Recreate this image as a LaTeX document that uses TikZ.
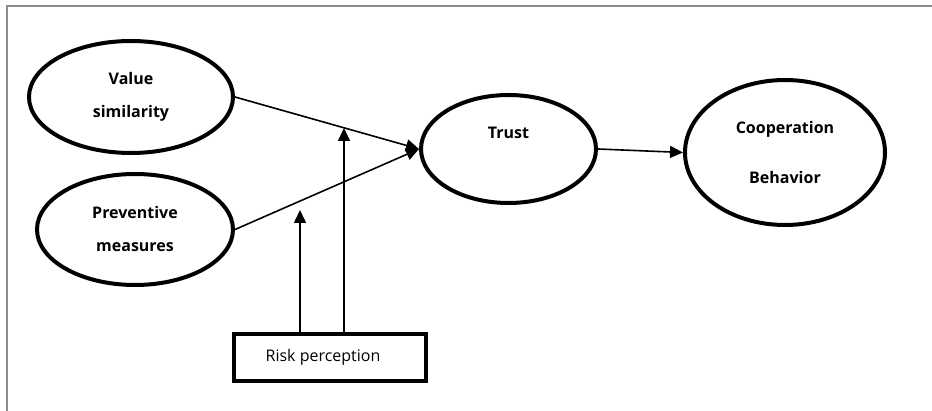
\documentclass[tikz,border=0pt]{standalone}
\usepackage{fontspec}
\setmainfont{Open Sans}
\usetikzlibrary{shapes.geometric,arrows.meta}
\definecolor{framegray}{RGB}{140,140,140}
\tikzset{
	construct/.style={draw=black, line width=4pt, ellipse, inner sep=0pt, align=center, font=\bfseries\fontsize{16}{33}\selectfont},
	modbox/.style={draw=black, line width=4pt, rectangle, inner sep=0pt, minimum width=192pt, minimum height=47pt, font=\fontsize{16}{18}\selectfont},
	path/.style={black, line width=1.6pt, -{Triangle[length=13pt,width=12pt]}}
}
\begin{document}
\begin{tikzpicture}[x=1pt, y=-1pt]
\useasboundingbox (0,0) rectangle (932,411);
\draw[framegray, line width=1.5pt](7,411)--(7,6)--(932,6);
% constructs
\node[construct, minimum width=204pt, minimum height=112pt] (val) at (131,97) {Value\\similarity};
\node[construct, minimum width=196pt, minimum height=111pt] (prev) at (135,229.5) {Preventive\\measures};
\node[construct, minimum width=175pt, minimum height=108pt] (trust) at (508.5,149) {Trust\\~};
\node[construct, minimum width=200pt, minimum height=145pt] (coop) at (785,152.5) {Cooperation\\[17pt]Behavior};
\node[modbox] (risk) at (330,357.5) {\hspace*{-14pt}Risk perception};
% paths
\draw[path](val.east)--(trust.west);
\draw[path](prev.east)--(trust.west);
\draw[path](trust.east)--(coop.west);
% moderation
\coordinate (m1) at (300,210);
\coordinate (m2) at (344,128);
\foreach \m in {m1,m2}{
	\draw[path](risk.north -| \m)--(\m);
}
\end{tikzpicture}
\end{document}
